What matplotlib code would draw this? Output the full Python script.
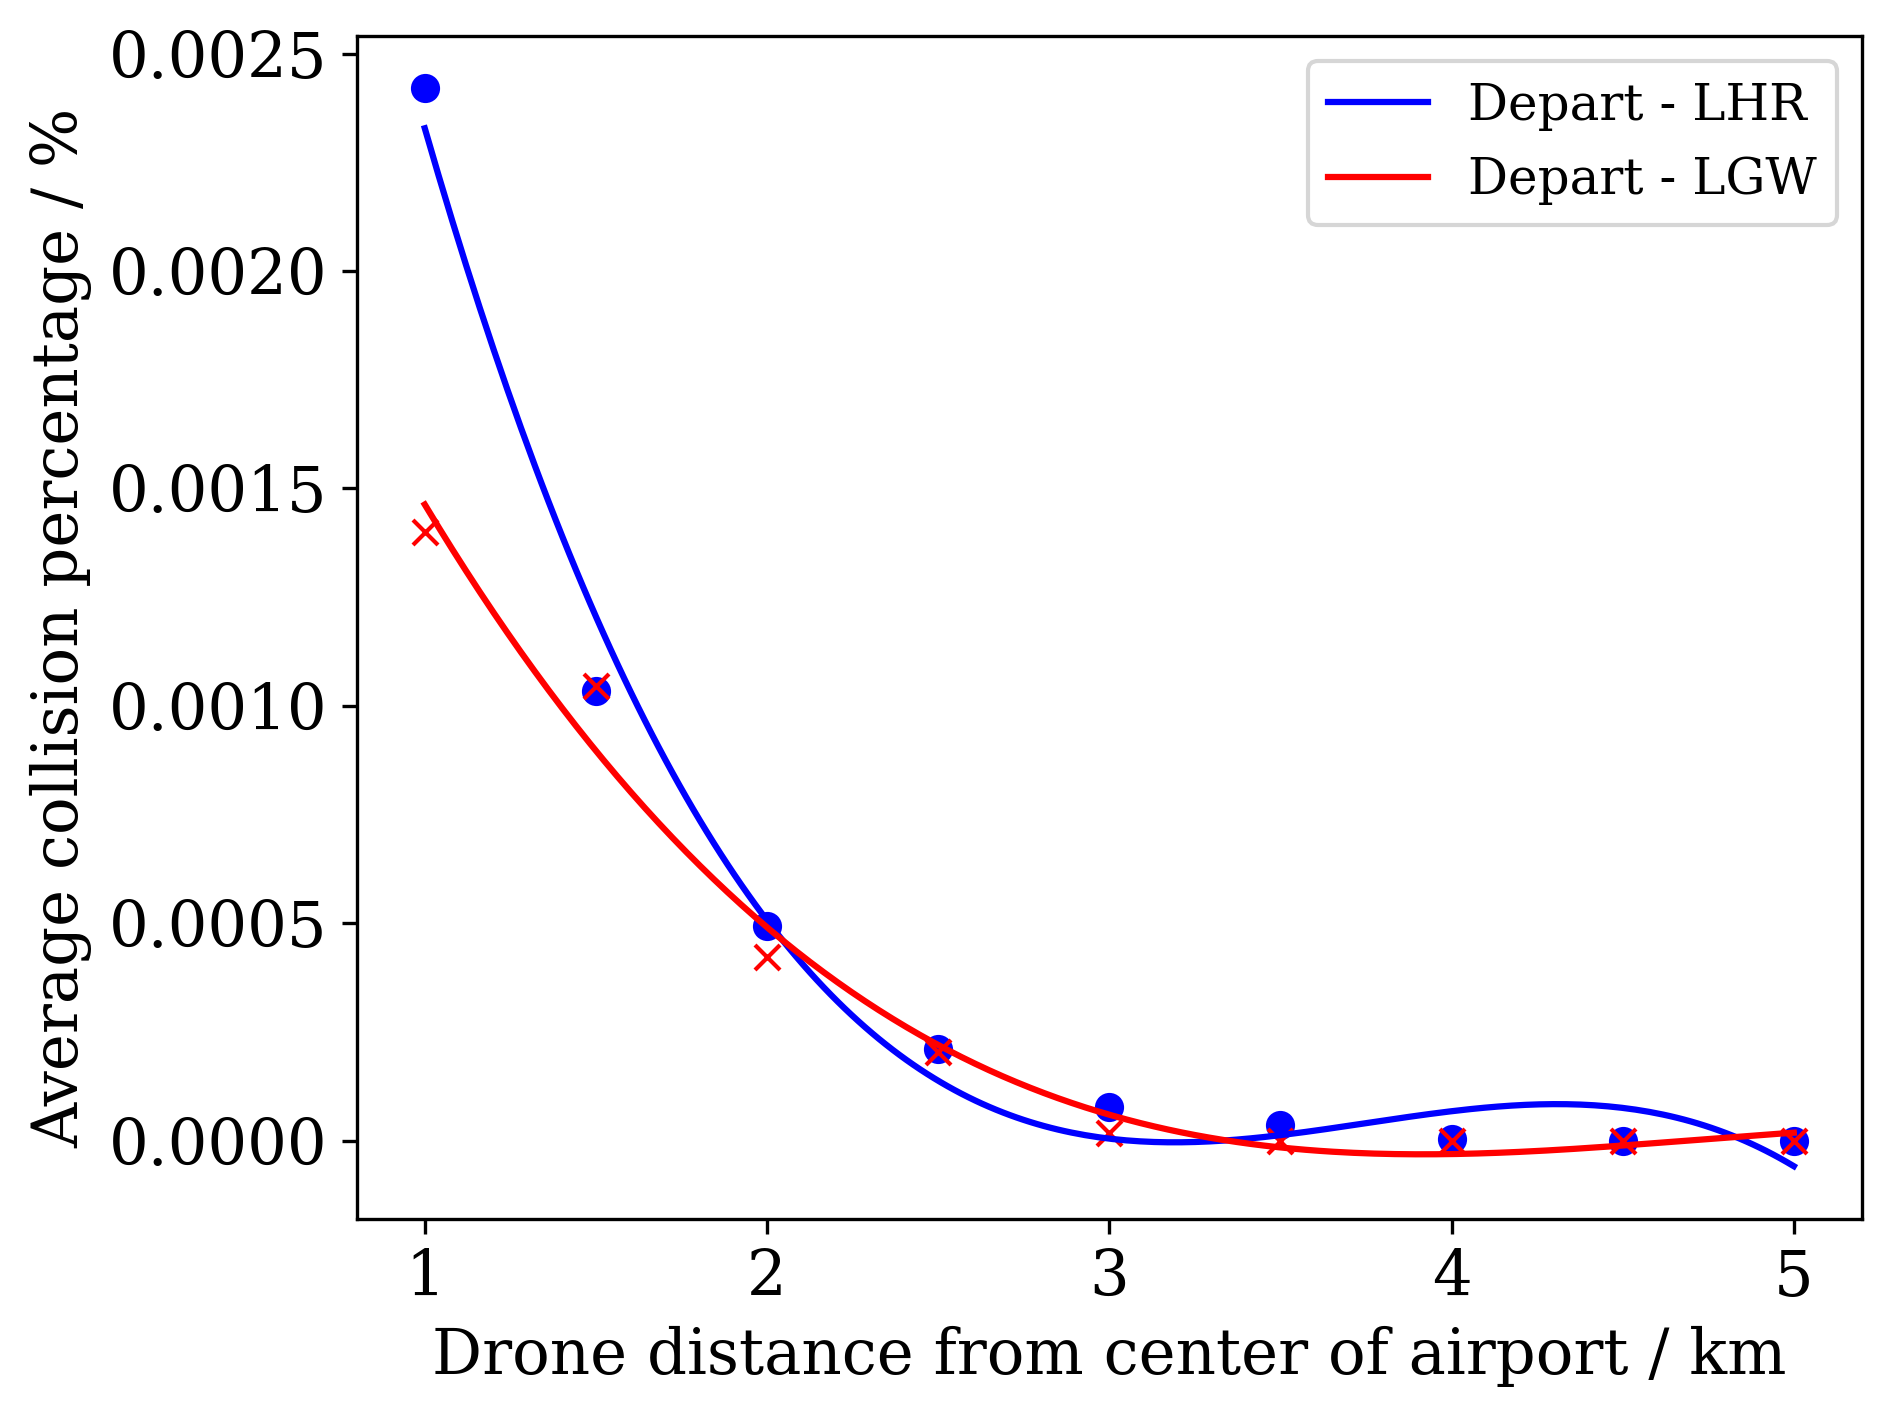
import numpy as np
import matplotlib
matplotlib.use("Agg")
import matplotlib.pyplot as plt

# distances from the airport centre (km)
distance_km = [1.0, 1.5, 2.0, 2.5, 3.0, 3.5, 4.0, 4.5, 5.0]

# average collision percentage
lhr_collision = [0.00242, 0.001035, 0.000494, 0.000211, 0.000078, 0.000036, 0.000003, 0.0, 0.0]
lgw_collision = [0.00140, 0.001045, 0.000422, 0.000203, 0.000018, 0.0, 0.0, 0.0, 0.0]

FIT_DEGREE = 3

plt.rcParams['font.family'] = 'DejaVu Serif'

fig = plt.figure(figsize=(1892 / 300, 1418 / 300), dpi=300)
ax = fig.add_axes([0.1887, 0.1405, 0.9841 - 0.1887, 0.9745 - 0.1405])

x = np.array(distance_km)
x_fine = np.linspace(x.min(), x.max(), 200)

# cubic trend lines through each set of points
lhr_fit = np.polyval(np.polyfit(x, lhr_collision, FIT_DEGREE), x_fine)
lgw_fit = np.polyval(np.polyfit(x, lgw_collision, FIT_DEGREE), x_fine)

ax.plot(x, lhr_collision, 'bo', markersize=6)
ax.plot(x, lgw_collision, 'rx', markersize=6)
ax.plot(x_fine, lhr_fit, color='blue', linewidth=1.5, label='Depart - LHR')
ax.plot(x_fine, lgw_fit, color='red', linewidth=1.5, label='Depart - LGW')

ax.set_xlim(0.802, 5.199)
ax.set_ylim(-0.00018, 0.00254)
ax.set_xticks([1, 2, 3, 4, 5])
ax.set_yticks([0.0, 0.0005, 0.0010, 0.0015, 0.0020, 0.0025])
ax.yaxis.set_major_formatter(matplotlib.ticker.FormatStrFormatter('%.4f'))
ax.tick_params(labelsize=15)

ax.set_xlabel('Drone distance from center of airport / km', fontsize=15)
ax.set_ylabel('Average collision percentage / %', fontsize=15)
ax.legend(loc='upper right', fontsize=12)

fig.savefig('out.png', dpi=300)
